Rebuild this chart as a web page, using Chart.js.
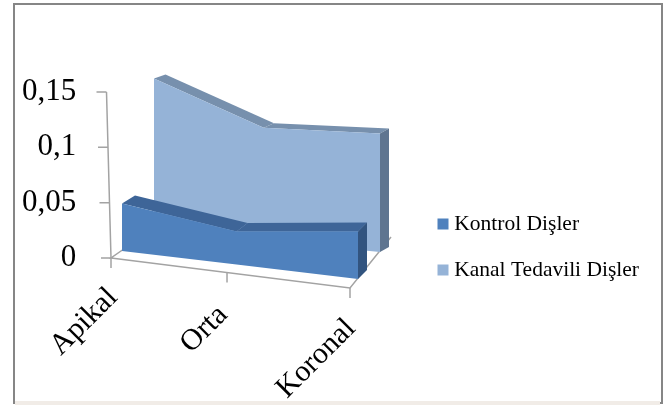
<!DOCTYPE html>
<html>
<head>
<meta charset="utf-8">
<script src="https://cdn.jsdelivr.net/npm/chart.js@4"></script>
<style>
    html, body { margin: 0; padding: 0; background: #fff; overflow: hidden; }
    #frame { position: absolute; left: 13px; top: 3px; width: 646px; height: 397px; border: 2px solid #868686; }
    #band { position: absolute; left: 15px; top: 401px; width: 645px; height: 4px; background: #f1ece7; }
    #chart { position: absolute; left: 0; top: 0; }
</style>
</head>
<body>
<div id="frame"></div>
<div id="band"></div>
<canvas id="chart" width="665" height="405"></canvas>
<script>
// chart values
const categories = ["Apikal", "Orta", "Koronal"];
const kontrolValues = [0.043, 0.03, 0.043];
const kanalValues = [0.137, 0.102, 0.107];
const yTicks = [0, 0.05, 0.1, 0.15];

// where the flat chart area lands on the page, front and back edge of each layer
const kontrolPlanes = {
    front: { x0: 122, x1: 358, y0: 251, y1: 279 },
    back: { x0: 135, x1: 367, y0: 243, y1: 270 }
};
const kanalPlanes = {
    front: { x0: 154, x1: 380, y0: 230, y1: 252 },
    back: { x0: 165.5, x1: 389, y0: 226, y1: 247 }
};
const floorPlanes = {
    front: { x0: 111, x1: 350, y0: 258, y1: 288 },
    back: { x0: 154, x1: 391, y0: 228, y1: 237 }
};
const layerPlanes = [kontrolPlanes, kanalPlanes];
const perspective = 1.06;
const wallLean = 4.5 / 166;
const labelNudge = [[2, 35], [-4, 38], [1, 36]];

const axisColor = "#a3a3a3";
const serif = "'Liberation Serif', serif";

// flat chart pixel -> page pixel
function project(chart, plane, px, py) {
    const area = chart.chartArea;
    const t = (px - area.left) / (area.right - area.left);
    const f = t / (t + (1 - t) * perspective);
    return {
        x: plane.x0 + (plane.x1 - plane.x0) * f,
        y: plane.y0 + (plane.y1 - plane.y0) * f + (py - area.bottom)
    };
}

function polygon(ctx, pts, color) {
    ctx.beginPath();
    pts.forEach((p, i) => i ? ctx.lineTo(p.x, p.y) : ctx.moveTo(p.x, p.y));
    ctx.closePath();
    ctx.fillStyle = color;
    ctx.fill();
}

// line controller that paints each series as a slab with depth
class Area3DController extends Chart.LineController {
    draw() {
        const chart = this.chart;
        const ctx = chart.ctx;
        const ds = this.getDataset();
        const planes = layerPlanes[this.index];
        const points = this.getMeta().data;
        const base = chart.scales.y.getPixelForValue(0);

        const frontTop = points.map(p => project(chart, planes.front, p.x, p.y));
        const backTop = points.map(p => project(chart, planes.back, p.x, p.y));
        const frontBase = points.map(p => project(chart, planes.front, p.x, base));
        const backBase = points.map(p => project(chart, planes.back, p.x, base));
        const last = points.length - 1;

        ctx.save();
        for (let i = 0; i < last; i++) {
            polygon(ctx, [frontTop[i], backTop[i], backTop[i + 1], frontTop[i + 1]], ds.topColor);
        }
        polygon(ctx, [frontTop[last], backTop[last], backBase[last], frontBase[last]], ds.sideColor);
        polygon(ctx, frontTop.concat(frontBase.slice().reverse()), ds.backgroundColor);
        ctx.restore();
    }
}
Area3DController.id = "area3d";
Area3DController.defaults = Chart.LineController.defaults;
Chart.register(Area3DController);

const floorAndAxes = {
    id: "floorAndAxes",
    afterLayout(chart) {
        // legend sits low on the right, not centred on the plot
        const legend = chart.legend;
        const pad = legend.options.labels.padding;
        const h = legend.bottom - legend.top;
        legend.left = 442.5 - pad;
        legend.top = 213.25 - pad;
        legend.bottom = legend.top + Math.max(h, 200);
    },
    beforeDatasetsDraw(chart) {
        const ctx = chart.ctx;
        const x = chart.scales.x;
        const y = chart.scales.y;
        const bottom = y.getPixelForValue(0);
        const left = x.getPixelForValue(0);
        const right = x.getPixelForValue(categories.length - 1);

        const nearL = project(chart, floorPlanes.front, left, bottom);
        const nearR = project(chart, floorPlanes.front, right, bottom);
        const farL = project(chart, floorPlanes.back, left, bottom);
        const farR = project(chart, floorPlanes.back, right, bottom);

        ctx.save();
        ctx.strokeStyle = axisColor;
        ctx.lineWidth = 1.5;

        // floor edges
        ctx.beginPath();
        ctx.moveTo(farL.x, farL.y);
        ctx.lineTo(nearL.x, nearL.y);
        ctx.lineTo(nearR.x, nearR.y);
        ctx.lineTo(farR.x, farR.y);
        ctx.stroke();

        // value axis and its ticks, leaning slightly
        const top = y.getPixelForValue(yTicks[yTicks.length - 1]);
        ctx.beginPath();
        ctx.moveTo(nearL.x, bottom);
        ctx.lineTo(nearL.x - (bottom - top) * wallLean, top);
        yTicks.forEach(v => {
            const py = y.getPixelForValue(v);
            const px = nearL.x - (bottom - py) * wallLean;
            ctx.moveTo(px, py);
            ctx.lineTo(px - 10, py);
        });
        ctx.stroke();

        // category ticks and rotated labels follow the slanted floor
        categories.forEach((label, i) => {
            const p = project(chart, floorPlanes.front, x.getPixelForValue(i), bottom);
            ctx.strokeStyle = axisColor;
            ctx.beginPath();
            ctx.moveTo(p.x, p.y);
            ctx.lineTo(p.x, p.y + 10);
            ctx.stroke();

            ctx.save();
            ctx.translate(p.x + labelNudge[i][0], p.y + labelNudge[i][1]);
            ctx.rotate(-Math.PI / 4);
            ctx.font = "30px " + serif;
            ctx.fillStyle = "#000";
            ctx.textAlign = "right";
            ctx.textBaseline = "middle";
            ctx.fillText(label, 0, 0);
            ctx.restore();
        });
        ctx.restore();
    }
};

new Chart(document.getElementById("chart"), {
    type: "area3d",
    data: {
        labels: categories,
        datasets: [
            {
                label: "Kontrol Dişler",
                data: kontrolValues,
                backgroundColor: "#4f81bd",
                topColor: "#3e6598",
                sideColor: "#32547f",
                borderColor: "#4f81bd",
                borderWidth: 10,
                clip: false
            },
            {
                label: "Kanal Tedavili Dişler",
                data: kanalValues,
                backgroundColor: "#95b3d7",
                topColor: "#7790ad",
                sideColor: "#5f7590",
                borderColor: "#95b3d7",
                borderWidth: 10,
                clip: false
            }
        ]
    },
    options: {
        responsive: false,
        animation: false,
        layout: { padding: { left: 0, top: 92, bottom: 147, right: 5 } },
        plugins: {
            title: { display: false },
            tooltip: { enabled: false },
            legend: {
                position: "right",
                align: "start",
                labels: {
                    // tiny box with a thick border keeps the marker close to the text
                    boxWidth: 1,
                    boxHeight: 1,
                    padding: 24.5,
                    color: "#000",
                    font: { family: serif, size: 21.5 }
                }
            }
        },
        scales: {
            x: { type: "category", display: false, offset: false },
            y: {
                type: "linear",
                min: yTicks[0],
                max: yTicks[yTicks.length - 1],
                border: { display: false },
                grid: { display: false, drawTicks: false },
                ticks: {
                    stepSize: 0.05,
                    padding: 22,
                    color: "#000",
                    font: { family: serif, size: 31 },
                    callback: v => String(+v.toFixed(2)).replace(".", ",")
                }
            }
        }
    },
    plugins: [floorAndAxes]
});
</script>
</body>
</html>
